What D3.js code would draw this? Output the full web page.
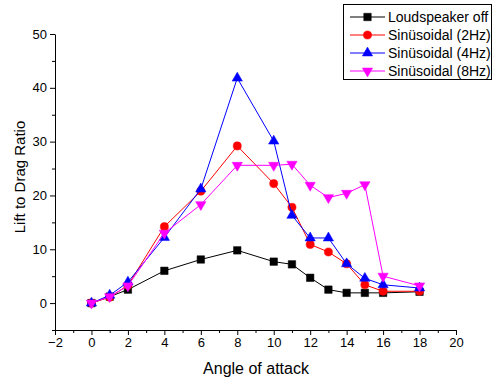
<!DOCTYPE html>
<html lang="en">
<head>
  <meta charset="utf-8"/>
  <title>Lift to Drag Ratio</title>
  <style>
    body { margin: 0; background: #fff; }
    svg text { font-family: Arial, "Liberation Sans", sans-serif; fill: #000; }
  </style>
</head>
<body>
<div id="chart"></div>

<script src="https://cdn.jsdelivr.net/npm/d3@7/dist/d3.min.js"></script>
<script>

  // data
  let angles = [0, 1, 2, 4, 6, 8, 10, 11, 12, 13, 14, 15, 16, 18];
  let speakerOff = [0, 1.2, 2.5, 6.0, 8.1, 9.8, 7.7, 7.2, 4.7, 2.5, 1.9, 1.9, 1.9, 2.1];
  let sine2Hz = [0, 1.1, 3.3, 14.2, 20.8, 29.2, 22.2, 17.8, 10.9, 9.5, 7.3, 3.4, 2.2, 2.2];
  let sine4Hz = [0, 1.45, 3.9, 12.2, 21.2, 41.8, 30.1, 16.3, 12.1, 12.1, 7.3, 4.6, 3.4, 2.8];
  let sine8Hz = [0, 1.2, 3.2, 13.0, 18.3, 25.6, 25.6, 25.8, 21.9, 19.6, 20.4, 22.0, 5.0, 3.2];

  let seriesNames = ['Loudspeaker off', 'Sinüsoidal (2Hz)', 'Sinüsoidal (4Hz)', 'Sinüsoidal (8Hz)'];
  let seriesValues = [speakerOff, sine2Hz, sine4Hz, sine8Hz];
  let seriesColors = ['#000000', '#ff0000', '#0000ff', '#ff00ff'];
  let seriesMarkers = ['square', 'circle', 'triangle', 'triangleDown'];

  let xTicks = [-2, 0, 2, 4, 6, 8, 10, 12, 14, 16, 18, 20];
  let yTicks = [0, 10, 20, 30, 40, 50];

  let width = 496, height = 380;
  let plot = {left: 55, right: 456, top: 34, bottom: 330};

  let svg = d3.select('#chart')
    .append('svg')
    .attr('width', width)
    .attr('height', height);

  let x = d3.scaleLinear().domain([-2, 20]).range([plot.left, plot.right]);
  let y = d3.scaleLinear().domain([-5, 50]).range([plot.bottom, plot.top]);

  // axes, ticks pointing outward
  let xAxis = svg.append('g')
    .attr('transform', `translate(0,${plot.bottom})`)
    .call(d3.axisBottom(x).tickValues(xTicks).tickSize(5).tickPadding(3).tickSizeOuter(0));
  svg.append('g')
    .attr('transform', `translate(0,${plot.bottom})`)
    .call(d3.axisBottom(x).tickValues(d3.range(-1, 20, 2)).tickSize(3).tickFormat('').tickSizeOuter(0))
    .select('.domain').remove();

  let yAxis = svg.append('g')
    .attr('transform', `translate(${plot.left},0)`)
    .call(d3.axisLeft(y).tickValues(yTicks).tickSize(5).tickPadding(3).tickSizeOuter(0));
  svg.append('g')
    .attr('transform', `translate(${plot.left},0)`)
    .call(d3.axisLeft(y).tickValues([-5, 5, 15, 25, 35, 45]).tickSize(3).tickFormat('').tickSizeOuter(0))
    .select('.domain').remove();

  svg.selectAll('.domain, .tick line').attr('stroke', '#000').attr('stroke-width', 1);
  [xAxis, yAxis].forEach(function (axis) {
    axis.selectAll('.tick text').style('font-size', '13px').attr('fill', '#000');
  });

  // axis titles
  svg.append('text')
    .attr('x', 256)
    .attr('y', 374)
    .attr('text-anchor', 'middle')
    .style('font-size', '16px')
    .text('Angle of attack');

  svg.append('text')
    .attr('transform', 'translate(25,177) rotate(-90)')
    .attr('text-anchor', 'middle')
    .style('font-size', '15px')
    .text('Lift to Drag Ratio');

  let symbolTypes = {
    square: d3.symbolSquare,
    circle: d3.symbolCircle,
    triangle: d3.symbolTriangle,
    triangleDown: d3.symbolTriangle
  };
  let symbolSizes = {square: 56, circle: 52, triangle: 46, triangleDown: 46};

  function drawMarker(g, kind, color) {
    g.append('path')
      .attr('d', d3.symbol().type(symbolTypes[kind]).size(symbolSizes[kind])())
      .attr('transform', kind === 'triangleDown' ? 'rotate(180)' : null)
      .attr('fill', color)
      .attr('stroke', color)
      .attr('stroke-width', 0.5);
  }

  let line = d3.line()
    .x(d => x(d[0]))
    .y(d => y(d[1]));

  seriesValues.forEach(function (values, i) {
    let points = angles.map((a, j) => [a, values[j]]);
    let group = svg.append('g');
    group.append('path')
      .datum(points)
      .attr('d', line)
      .attr('fill', 'none')
      .attr('stroke', seriesColors[i])
      .attr('stroke-width', 1);
    points.forEach(function (p) {
      let g = group.append('g').attr('transform', `translate(${x(p[0])},${y(p[1])})`);
      drawMarker(g, seriesMarkers[i], seriesColors[i]);
    });
  });

  // legend
  let legend = svg.append('g');
  legend.append('rect')
    .attr('x', 343.5)
    .attr('y', 4.5)
    .attr('width', 148)
    .attr('height', 75)
    .attr('fill', '#fff')
    .attr('stroke', '#000')
    .attr('stroke-width', 1);

  seriesNames.forEach(function (name, i) {
    let rowY = 17 + i * 18;
    let row = legend.append('g').attr('transform', `translate(0,${rowY})`);
    row.append('line')
      .attr('x1', 350).attr('x2', 385)
      .attr('y1', 0).attr('y2', 0)
      .attr('stroke', seriesColors[i])
      .attr('stroke-width', 1);
    drawMarker(row.append('g').attr('transform', 'translate(367.5,0)'), seriesMarkers[i], seriesColors[i]);
    row.append('text')
      .attr('x', 388)
      .attr('y', 5)
      .style('font-size', '14px')
      .text(name);
  });

</script>
</body>
</html>
